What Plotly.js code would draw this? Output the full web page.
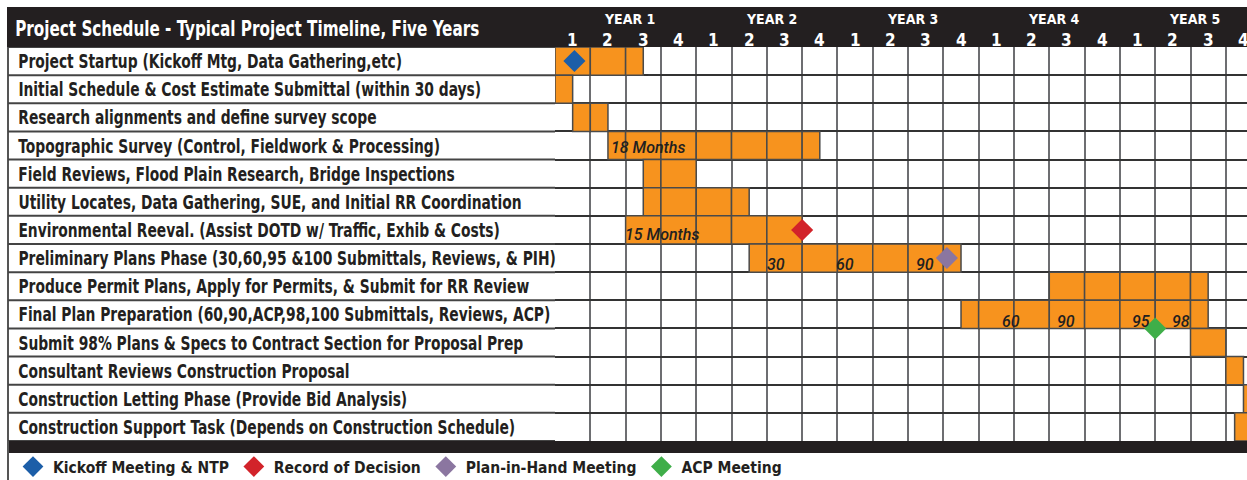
<!DOCTYPE html>
<html><head><meta charset="utf-8">
<script src="https://cdn.plot.ly/plotly-3.0.1.min.js"></script>
<style>
html,body{margin:0;padding:0;background:#fff;}
#chart{width:1247px;height:480px;}
/* condensed look for the left-aligned bold labels */
#chart text.annotation-text[style*="Narrow"]{transform-box:fill-box;transform-origin:0 50%;transform:scaleX(0.81);}
</style>
</head><body><div id="chart"></div>
<script>
const chartTitle = "Project Schedule - Typical Project Timeline, Five Years";
const tasks = [
  "Project Startup (Kickoff Mtg, Data Gathering,etc)",
  "Initial Schedule & Cost Estimate Submittal (within 30 days)",
  "Research alignments and define survey scope",
  "Topographic Survey (Control, Fieldwork & Processing)",
  "Field Reviews, Flood Plain Research, Bridge Inspections",
  "Utility Locates, Data Gathering, SUE, and Initial RR Coordination",
  "Environmental Reeval. (Assist DOTD w/ Traffic, Exhib & Costs)",
  "Preliminary Plans Phase (30,60,95 &100 Submittals, Reviews, & PIH)",
  "Produce Permit Plans, Apply for Permits, & Submit for RR Review",
  "Final Plan Preparation (60,90,ACP,98,100 Submittals, Reviews, ACP)",
  "Submit 98% Plans & Specs to Contract Section for Proposal Prep",
  "Consultant Reviews Construction Proposal",
  "Construction Letting Phase (Provide Bid Analysis)",
  "Construction Support Task (Depends on Construction Schedule)"
];
// start / end of each task, in quarters from project start
const taskStart = [0, 0, 0.5, 1.5, 2.5, 2.5, 2, 5.5, 14, 11.5, 18, 19, 19.5, 19.25];
const taskEnd   = [2.5, 0.5, 1.5, 7.5, 4, 5.5, 7, 11.5, 18.5, 18.5, 19, 19.5, 20, 20];

const years = ["YEAR 1", "YEAR 2", "YEAR 3", "YEAR 4", "YEAR 5"];
const quarterLabels = ["1", "2", "3", "4"];

const milestoneNames   = ["Kickoff Meeting & NTP", "Record of Decision", "Plan-in-Hand Meeting", "ACP Meeting"];
const milestoneQuarter = [0.55, 7.0, 11.1, 17.0];
const milestoneRow     = [0, 6, 7, 9.5];
const milestoneColors  = ["#1c5ea8", "#d2232a", "#8b76a0", "#3fae49"];

const durationText    = ["18 Months", "15 Months"];
const durationRow     = [3, 6];
const durationQuarter = [2.63, 3.03];

const reviewText    = ["30", "60", "90", "60", "90", "95", "98"];
const reviewRow     = [7, 7, 7, 9, 9, 9, 9];
const reviewQuarter = [6.26, 8.22, 10.48, 12.92, 14.48, 16.6, 17.73];

// ---------- layout helpers ----------
const W = 1247, H = 480;
const px = v => v / W, py = v => (H - v) / H;
const COND_L = '"Liberation Sans Narrow", "DejaVu Sans Condensed", Roboto, sans-serif';
const COND_C = '"DejaVu Sans Condensed", Roboto, sans-serif';
const DARK = "#231f20";
const ORANGE = "#f7931e";
const nQuarters = years.length * quarterLabels.length;

// bars split at quarter boundaries so every cell keeps its outline
const segY = [], segBase = [], segLen = [];
tasks.forEach((t, i) => {
  for (let q = Math.floor(taskStart[i]); q < Math.ceil(taskEnd[i]); q++) {
    const a = Math.max(taskStart[i], q), b = Math.min(taskEnd[i], q + 1);
    if (b > a) { segY.push(i); segBase.push(a); segLen.push(b - a); }
  }
});

const traces = [{
  type: "bar", orientation: "h", y: segY, x: segLen, base: segBase, width: 1,
  marker: {color: ORANGE, line: {color: "#4a4a4a", width: 1.5}},
  showlegend: false, hoverinfo: "skip"
}];
milestoneNames.forEach((n, i) => {
  traces.push({
    type: "scatter", mode: "markers", name: n,
    x: [milestoneQuarter[i]], y: [milestoneRow[i]], cliponaxis: false,
    marker: {symbol: "diamond", size: 17, color: milestoneColors[i], line: {width: 0}},
    hoverinfo: "name"
  });
});

const annotations = [];
annotations.push({xref: "paper", yref: "paper", x: px(13), y: py(29), xanchor: "left", yanchor: "middle",
  text: chartTitle, showarrow: false, font: {family: COND_L, size: 20.9, weight: 700, color: "#ffffff"}});
years.forEach((yl, i) => annotations.push({xref: "x", yref: "paper", x: 2 + 4 * i + 0.12, y: py(18.5),
  xanchor: "center", yanchor: "middle", text: yl, showarrow: false,
  font: {family: COND_C, size: 14, weight: 700, color: "#ffffff"}}));
for (let q = 0; q < nQuarters; q++) {
  annotations.push({xref: "x", yref: "paper", x: q + 0.5, y: py(40), xanchor: "center", yanchor: "middle",
    text: quarterLabels[q % 4], showarrow: false, font: {family: COND_C, size: 17, weight: 700, color: "#ffffff"}});
}
tasks.forEach((t, i) => annotations.push({xref: "paper", yref: "y", x: px(16), y: i, xanchor: "left", yanchor: "middle",
  text: t, showarrow: false, font: {family: COND_L, size: 19, weight: 700, color: DARK}}));
durationText.forEach((t, i) => annotations.push({xref: "x", yref: "y", x: durationQuarter[i], y: durationRow[i],
  yshift: i === 0 ? -2 : -5, xanchor: "center", yanchor: "middle", text: t, showarrow: false,
  font: {family: "Roboto, sans-serif", size: 16, weight: 500, style: "italic", color: DARK}}));
reviewText.forEach((t, i) => annotations.push({xref: "x", yref: "y", x: reviewQuarter[i], y: reviewRow[i],
  yshift: reviewRow[i] === 7 ? -6 : -7, xanchor: "center", yanchor: "middle", text: t, showarrow: false,
  font: {family: "Roboto, sans-serif", size: 16, weight: 500, style: "italic", color: DARK}}));

const shapes = [
  {type: "rect", xref: "paper", yref: "paper", x0: px(7), x1: 1, y0: py(47), y1: py(7), fillcolor: DARK, line: {width: 0}, layer: "below"},
  {type: "rect", xref: "paper", yref: "paper", x0: px(8), x1: 1, y0: py(453), y1: py(441), fillcolor: DARK, line: {width: 0}, layer: "below"},
  {type: "line", xref: "paper", yref: "paper", x0: px(8), x1: px(8), y0: py(480), y1: py(47), line: {color: "#555", width: 2}, layer: "below"}
];
for (let r = 0; r <= tasks.length; r++) {
  shapes.push({type: "line", xref: "paper", yref: "y", x0: px(8), x1: px(555), y0: r - 0.5, y1: r - 0.5,
    line: {color: "#444", width: 2}, layer: "below"});
}

const layout = {
  width: W, height: H, margin: {l: 0, r: 0, t: 0, b: 0, pad: 0, autoexpand: false},
  paper_bgcolor: "#ffffff", plot_bgcolor: "#ffffff",
  bargap: 0, barmode: "overlay",
  xaxis: {domain: [px(555), 1], range: [0, 19.6], showticklabels: false, ticks: "",
    tickmode: "array", tickvals: Array.from({length: nQuarters + 1}, (_, q) => q),
    showgrid: true, gridcolor: "#6d6e71", gridwidth: 2, zeroline: false, showline: false, fixedrange: true, automargin: false},
  yaxis: {domain: [py(441), py(47)], range: [13.5, -0.5], showticklabels: false, ticks: "",
    tickmode: "array", tickvals: Array.from({length: tasks.length + 1}, (_, r) => r - 0.5),
    showgrid: true, gridcolor: "#333", gridwidth: 2, zeroline: false, showline: false, fixedrange: true, automargin: false},
  showlegend: true,
  legend: {orientation: "h", x: px(13), y: py(467), xanchor: "left", yanchor: "middle",
    font: {family: COND_C, size: 15.5, weight: 700, color: DARK}, bgcolor: "rgba(0,0,0,0)", itemclick: false},
  annotations: annotations, shapes: shapes
};
Plotly.newPlot("chart", traces, layout, {displayModeBar: false, staticPlot: true});
</script></body></html>
